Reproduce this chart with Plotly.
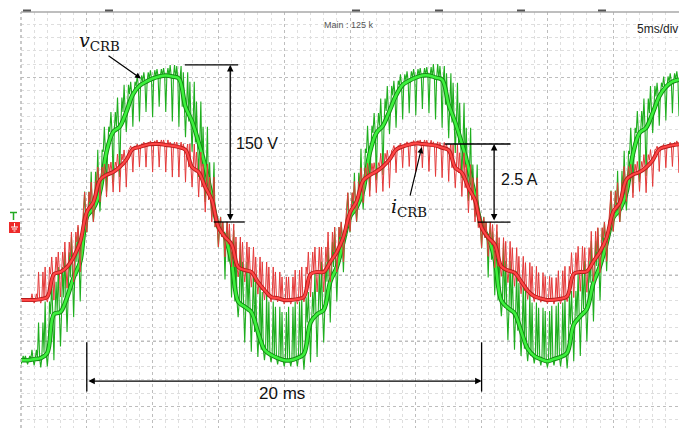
import plotly.graph_objects as go

# ---------------- data ----------------
# time samples in ms (5 ms/div, 10 div)
T = [0.0, 0.5, 1.0, 1.5, 2.0, 2.5, 3.0, 3.5, 4.0, 4.5,
     5.0, 5.5, 6.0, 6.5, 7.0, 7.5, 8.0, 8.5, 9.0, 9.5,
     10.0, 10.5, 11.0, 11.5, 12.0, 12.5, 13.0, 13.5, 14.0, 14.5,
     15.0, 15.5, 16.0, 16.5, 17.0, 17.5, 18.0, 18.5, 19.0, 19.5,
     20.0, 20.5, 21.0, 21.5, 22.0, 22.5, 23.0, 23.5, 24.0, 24.5,
     25.0, 25.5, 26.0, 26.5, 27.0, 27.5, 28.0, 28.5, 29.0, 29.5,
     30.0, 30.5, 31.0, 31.5, 32.0, 32.5, 33.0, 33.5, 34.0, 34.5,
     35.0, 35.5, 36.0, 36.5, 37.0, 37.5, 38.0, 38.5, 39.0, 39.5,
     40.0, 40.5, 41.0, 41.5, 42.0, 42.5, 43.0, 43.5, 44.0, 44.5,
     45.0, 45.5, 46.0, 46.5, 47.0, 47.5, 48.0, 48.5, 49.0, 49.5, 50.0]

# v_CRB (V): dense band level, lowest and highest switching excursion
v_band = [-132, -132, -131, -130, -125, -88, -86, -72, -53, -38,
          5, 13, 29, 67, 86, 91, 105, 122, 130, 134, 137, 139, 140, 139, 137, 110, 96, 76, 53, 24,
          -5, -14, -38, -76, -81, -86, -105, -122, -127, -130, -132, -132, -130, -126, -96, -88, -84, -57, -43, -19,
          5, 14, 30, 66, 85, 92, 106, 121, 131, 135, 138, 140, 140, 138, 136, 112, 95, 75, 52, 25,
          -4, -15, -36, -75, -82, -87, -104, -121, -128, -131, -133, -131, -129, -125, -98, -90, -83, -58, -42, -20,
          4, 12, 28, 65, 85, 90, 104, 120, 129, 134, 136]
v_lo = [-136, -136, -137, -139, -138, -132, -119, -105, -91, -76,
        -10, 0, 10, 29, 38, 43, 86, 91, 96, 105, 100, 110, 105, 96, 91, 81, 67, 43, 19, 5,
        -24, -55, -72, -91, -115, -124, -129, -132, -134, -136, -138, -138, -138, -141, -134, -129, -115, -96, -76, -48,
        -10, 0, 12, 30, 40, 45, 84, 90, 98, 104, 102, 108, 104, 98, 90, 80, 66, 42, 20, 5,
        -25, -53, -70, -90, -113, -122, -128, -133, -135, -137, -139, -137, -138, -140, -133, -128, -114, -95, -75, -47,
        -9, 0, 11, 28, 38, 44, 85, 92, 97, 104, 101]
v_hi = [-128, -128, -122, -96, -76, -57, -43, -29, -14, -5,
        29, 48, 69, 91, 105, 119, 131, 134, 140, 143, 145, 146, 147, 150, 149, 143, 134, 115, 91, 57,
        5, 0, -8, -19, -38, -48, -57, -67, -76, -81, -86, -81, -76, -72, -67, -48, -38, -19, -5, 0,
        28, 47, 70, 92, 104, 118, 130, 135, 141, 144, 146, 147, 148, 151, 149, 142, 133, 114, 90, 55,
        5, 0, -9, -20, -37, -47, -58, -66, -77, -82, -85, -80, -77, -71, -66, -49, -37, -18, -6, 0,
        30, 49, 68, 90, 106, 118, 130, 133, 139, 142, 144]

# i_CRB (A)
i_band = [-2.5, -2.5, -2.5, -2.47, -2.4, -1.67, -1.6, -1.44, -1.12, -0.64,
          0.32, 0.64, 1.35, 1.51, 1.6, 1.76, 1.99, 2.34, 2.4, 2.47, 2.5, 2.5, 2.47, 2.44, 2.4, 2.31, 1.76, 1.6, 1.12, 0.71,
          -0.16, -0.48, -0.71, -1.44, -1.54, -1.6, -1.92, -2.18, -2.4, -2.44, -2.5, -2.5, -2.47, -2.4, -1.67, -1.6, -1.6, -1.28, -0.96, -0.48,
          0.3, 0.66, 1.33, 1.5, 1.62, 1.78, 2.0, 2.32, 2.42, 2.48, 2.52, 2.5, 2.48, 2.45, 2.38, 2.3, 1.74, 1.58, 1.1, 0.7,
          -0.18, -0.5, -0.72, -1.42, -1.55, -1.62, -1.9, -2.2, -2.38, -2.45, -2.5, -2.49, -2.46, -2.38, -1.66, -1.6, -1.58, -1.26, -0.95, -0.5,
          0.33, 0.62, 1.36, 1.52, 1.6, 1.75, 1.98, 2.33, 2.41, 2.46, 2.49]
i_lo = [-2.56, -2.56, -2.6, -2.6, -2.56, -2.5, -2.4, -2.12, -1.92, -1.6,
        -0.32, 0.0, 0.64, 0.8, 0.96, 0.96, 1.12, 1.6, 1.76, 1.76, 1.6, 1.76, 1.6, 1.44, 1.44, 1.28, 1.12, 0.8, 0.32, 0.0,
        -0.8, -1.12, -1.44, -1.76, -1.92, -2.08, -2.31, -2.5, -2.56, -2.56, -2.63, -2.63, -2.63, -2.56, -2.4, -2.24, -2.24, -1.92, -1.6, -1.28,
        -0.3, 0.02, 0.62, 0.82, 0.94, 0.98, 1.1, 1.58, 1.74, 1.78, 1.62, 1.74, 1.62, 1.46, 1.42, 1.3, 1.1, 0.82, 0.3, 0.0,
        -0.82, -1.1, -1.46, -1.74, -1.94, -2.06, -2.3, -2.48, -2.55, -2.57, -2.62, -2.63, -2.62, -2.55, -2.42, -2.22, -2.25, -1.9, -1.62, -1.26,
        -0.3, 0.0, 0.66, 0.78, 0.98, 0.94, 1.14, 1.62, 1.74, 1.78, 1.58]
i_hi = [-2.44, -2.44, -2.3, -1.6, -1.44, -1.12, -0.96, -0.64, -0.32, -0.1,
        0.96, 1.28, 1.76, 1.86, 1.92, 2.18, 2.31, 2.44, 2.5, 2.56, 2.6, 2.63, 2.63, 2.56, 2.56, 2.5, 2.5, 2.24, 1.86, 1.44,
        0.16, 0.0, -0.06, -0.48, -0.64, -0.8, -1.12, -1.28, -1.44, -1.6, -1.76, -1.76, -1.54, -1.44, -0.96, -0.8, -0.8, -0.32, -0.16, 0.0,
        0.94, 1.3, 1.74, 1.88, 1.9, 2.2, 2.3, 2.45, 2.52, 2.57, 2.61, 2.63, 2.62, 2.57, 2.55, 2.5, 2.48, 2.22, 1.84, 1.42,
        0.15, 0.0, -0.08, -0.5, -0.62, -0.82, -1.1, -1.3, -1.42, -1.62, -1.74, -1.78, -1.56, -1.42, -0.98, -0.78, -0.82, -0.3, -0.18, 0.0,
        0.98, 1.26, 1.78, 1.85, 1.94, 2.16, 2.32, 2.43, 2.49, 2.55, 2.6]

# annotation values
V_STEP = 150      # V
I_STEP = 2.5      # A
T_SPAN = (5, 35)  # ms, marked "20 ms"

# ---------------- figure ----------------
W, H = 683, 428
ML, MR, MT, MB = 21, 4, 12, 0
DIV_PX = 65.8
PH = H - MT - MB

V_RANGE = [-196.8, 200.6]
I_RANGE = [-6.60, 6.73]
V_PER_PX = (V_RANGE[1] - V_RANGE[0]) / PH
V_DIV = DIV_PX * V_PER_PX


def switching(tt, band, lo, hi, n=6):
    """Render each sample interval as PWM strokes between the read extents."""
    xs, ys = [], []
    step = 0.5 / n
    for t, b, l, h in zip(tt, band, lo, hi):
        pattern = [b, h, b, l, b, h][:n]
        for k, val in enumerate(pattern):
            xs.append(t - 0.25 + k * step)
            ys.append(val)
    return xs, ys


fig = go.Figure()

gx, gy = switching(T, v_band, v_lo, v_hi)
fig.add_trace(go.Scatter(x=gx, y=gy, yaxis="y", mode="lines",
                         line=dict(color="#1fae1f", width=1.1), hoverinfo="skip"))
fig.add_trace(go.Scatter(x=T, y=v_band, yaxis="y", mode="lines",
                         line=dict(color="#138a13", width=4.5, shape="spline"), hoverinfo="skip"))
fig.add_trace(go.Scatter(x=T, y=v_band, yaxis="y", mode="lines",
                         line=dict(color="#3df03d", width=2.6, shape="spline"), hoverinfo="skip"))

rx, ry = switching(T, i_band, i_lo, i_hi)
fig.add_trace(go.Scatter(x=rx, y=ry, yaxis="y2", mode="lines",
                         line=dict(color="#e43a3a", width=1), hoverinfo="skip"))
fig.add_trace(go.Scatter(x=T, y=i_band, yaxis="y2", mode="lines",
                         line=dict(color="#b51c1c", width=4, shape="spline"), hoverinfo="skip"))
fig.add_trace(go.Scatter(x=T, y=i_band, yaxis="y2", mode="lines",
                         line=dict(color="#ff4545", width=2.2, shape="spline"), hoverinfo="skip"))


def px(xp):
    return (xp - ML) / (W - ML - MR)


def py(yp):
    return (H - MB - yp) / PH


shapes = []
# plot frame (top and left)
shapes.append(dict(type="line", xref="paper", yref="paper", x0=0, x1=1, y0=1, y1=1,
                   line=dict(color="#a8a8a8", width=1.5)))
shapes.append(dict(type="line", xref="paper", yref="paper", x0=0, x1=0, y0=0, y1=1,
                   line=dict(color="#b8b8b8", width=1.5, dash="dot")))
# small marks on top bezel
for mx in [27, 109, 356, 439, 521, 602]:
    shapes.append(dict(type="rect", xref="paper", yref="paper",
                       x0=px(mx - 4), x1=px(mx + 4), y0=py(11.5), y1=py(9.5),
                       line=dict(width=0), fillcolor="#555555"))
# ground / trigger marker on the left
shapes.append(dict(type="rect", xref="paper", yref="paper", x0=px(9), x1=px(20), y0=py(233), y1=py(222),
                   line=dict(width=0), fillcolor="#ee2a2a"))
for (x0, x1, y0, y1) in [(14.5, 14.5, 223, 227), (11, 18, 227, 227), (12, 17, 229, 229), (13.5, 15.5, 231, 231)]:
    shapes.append(dict(type="line", xref="paper", yref="paper", x0=px(x0), x1=px(x1), y0=py(y0), y1=py(y1),
                       line=dict(color="white", width=1)))
shapes.append(dict(type="line", xref="paper", yref="paper", x0=px(10), x1=px(17), y0=py(212.5), y1=py(212.5),
                   line=dict(color="#22aa22", width=1.5)))
shapes.append(dict(type="line", xref="paper", yref="paper", x0=px(13.5), x1=px(13.5), y0=py(212.5), y1=py(220),
                   line=dict(color="#22aa22", width=1.5)))

# 150 V dimension lines
shapes.append(dict(type="line", xref="x", yref="y", x0=12.45, x1=16.5, y0=V_STEP, y1=V_STEP,
                   line=dict(color="black", width=1.3)))
shapes.append(dict(type="line", xref="x", yref="y", x0=14.65, x1=17.0, y0=0, y1=0,
                   line=dict(color="black", width=1.3)))
# 2.5 A dimension lines
shapes.append(dict(type="line", xref="x", yref="y2", x0=32.2, x1=37.2, y0=I_STEP, y1=I_STEP,
                   line=dict(color="black", width=1.3)))
shapes.append(dict(type="line", xref="x", yref="y2", x0=34.7, x1=37.2, y0=0, y1=0,
                   line=dict(color="black", width=1.3)))
# 20 ms end ticks
for tx in T_SPAN:
    shapes.append(dict(type="line", xref="x", yref="y", x0=tx, x1=tx, y0=-115, y1=-162,
                       line=dict(color="black", width=1.3)))

ann = []
arrow_common = dict(showarrow=True, text="", arrowhead=2, startarrowhead=2, arrowsize=1,
                    arrowwidth=1.3, arrowcolor="black", arrowside="end+start")
ann.append(dict(x=15.9, y=V_STEP, xref="x", yref="y", ax=15.9, ay=0, axref="x", ayref="y", **arrow_common))
ann.append(dict(x=35.95, y=I_STEP, xref="x", yref="y2", ax=35.95, ay=0, axref="x", ayref="y2", **arrow_common))
ann.append(dict(x=T_SPAN[1], y=-152, xref="x", yref="y", ax=T_SPAN[0], ay=-152, axref="x", ayref="y", **arrow_common))

txt_font = dict(family="Liberation Sans, Arial, sans-serif", size=16, color="#111111")
ann.append(dict(x=17.95, y=75, xref="x", yref="y", text="150 V", showarrow=False, font=txt_font))
ann.append(dict(x=37.85, y=1.35, xref="x", yref="y2", text="2.5 A", showarrow=False, font=txt_font))
ann.append(dict(x=19.85, y=-164, xref="x", yref="y", text="20 ms", showarrow=False,
                font=dict(family="Liberation Sans, Arial, sans-serif", size=17, color="#111111")))

serif = dict(family="DejaVu Serif, Liberation Serif, serif", size=19, color="#111111")
ann.append(dict(x=6.0, y=172, xref="x", yref="y", text="<i>v</i><sub>CRB</sub>", showarrow=False, font=serif))
ann.append(dict(x=29.45, y=0.45, xref="x", yref="y2", text="<i>i</i><sub>CRB</sub>", showarrow=False, font=serif))
# pointer arrows
ann.append(dict(x=9.12, y=137, xref="x", yref="y", ax=-34, ay=-24, text="", showarrow=True,
                arrowhead=2, arrowsize=1, arrowwidth=1.2, arrowcolor="black"))
ann.append(dict(x=30.45, y=2.4, xref="x", yref="y2", ax=-12, ay=50, text="", showarrow=True,
                arrowhead=2, arrowsize=1, arrowwidth=1.2, arrowcolor="black"))

# scope status texts
ann.append(dict(x=px(349), y=py(18), xref="paper", yref="paper", text="Main : 125 k", showarrow=False,
                font=dict(family="Liberation Sans, Arial, sans-serif", size=9, color="#555555")))
ann.append(dict(x=px(680), y=py(20), xref="paper", yref="paper", text="5ms/div", showarrow=False,
                xanchor="right", font=dict(family="Liberation Sans, Arial, sans-serif", size=12, color="#222222")))

fig.update_layout(
    width=W, height=H,
    margin=dict(l=ML, r=MR, t=MT, b=MB, pad=0),
    paper_bgcolor="white", plot_bgcolor="white",
    showlegend=False,
    xaxis=dict(range=[0, 50], showticklabels=False, ticks="", zeroline=False, showline=False,
               showgrid=True, dtick=5, tick0=0, gridcolor="#bdbdbd", griddash="dot", gridwidth=1,
               minor=dict(dtick=1, showgrid=True, gridcolor="#dedede", gridwidth=1)),
    yaxis=dict(range=V_RANGE, showticklabels=False, ticks="", zeroline=False, showline=False,
               showgrid=True, dtick=V_DIV, tick0=V_RANGE[1], gridcolor="#bdbdbd", griddash="dot", gridwidth=1,
               minor=dict(dtick=V_DIV / 5, showgrid=True, gridcolor="#dedede", gridwidth=1)),
    yaxis2=dict(range=I_RANGE, overlaying="y", visible=False, showgrid=False),
    shapes=shapes,
    annotations=ann,
)

fig.write_html("out.html", config={"displayModeBar": False})
